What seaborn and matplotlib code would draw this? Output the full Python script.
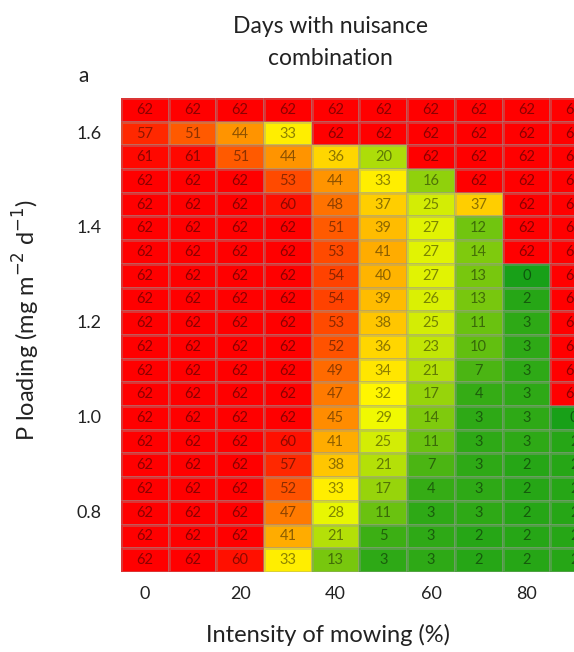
import numpy as np
import pandas as pd
import matplotlib.pyplot as plt
from matplotlib.colors import LinearSegmentedColormap
import seaborn as sns

# mowing intensity (%) columns and P loading rows (top to bottom)
mowing = [0, 10, 20, 30, 40, 50, 60, 70, 80, 90]
p_loading = [1.65, 1.60, 1.55, 1.50, 1.45, 1.40, 1.35, 1.30, 1.25, 1.20,
             1.15, 1.10, 1.05, 1.00, 0.95, 0.90, 0.85, 0.80, 0.75, 0.70]
p_ticks = [1.6, 1.4, 1.2, 1.0, 0.8]
x_ticks = [0, 20, 40, 60, 80]

days = [
    [62, 62, 62, 62, 62, 62, 62, 62, 62, 62],
    [57, 51, 44, 33, 62, 62, 62, 62, 62, 62],
    [61, 61, 51, 44, 36, 20, 62, 62, 62, 62],
    [62, 62, 62, 53, 44, 33, 16, 62, 62, 62],
    [62, 62, 62, 60, 48, 37, 25, 37, 62, 62],
    [62, 62, 62, 62, 51, 39, 27, 12, 62, 62],
    [62, 62, 62, 62, 53, 41, 27, 14, 62, 62],
    [62, 62, 62, 62, 54, 40, 27, 13, 0, 62],
    [62, 62, 62, 62, 54, 39, 26, 13, 2, 62],
    [62, 62, 62, 62, 53, 38, 25, 11, 3, 62],
    [62, 62, 62, 62, 52, 36, 23, 10, 3, 62],
    [62, 62, 62, 62, 49, 34, 21, 7, 3, 62],
    [62, 62, 62, 62, 47, 32, 17, 4, 3, 62],
    [62, 62, 62, 62, 45, 29, 14, 3, 3, 0],
    [62, 62, 62, 60, 41, 25, 11, 3, 3, 2],
    [62, 62, 62, 57, 38, 21, 7, 3, 2, 2],
    [62, 62, 62, 52, 33, 17, 4, 3, 2, 2],
    [62, 62, 62, 47, 28, 11, 3, 3, 2, 2],
    [62, 62, 62, 41, 21, 5, 3, 2, 2, 2],
    [62, 62, 60, 33, 13, 3, 3, 2, 2, 2],
]

sns.set_style("white")
plt.rcParams["font.family"] = ["Lato", "DejaVu Sans"]
TXT = "#222222"

df = pd.DataFrame(days, index=p_loading, columns=mowing)
cmap = LinearSegmentedColormap.from_list(
    "gyr", [(0.0, "#18a018"), (0.5, "#ffff00"), (1.0, "#ff0000")])

fig = plt.figure(figsize=(5.74, 6.52), dpi=100)
# axes runs past the right edge, as in the cropped original
ax = fig.add_axes([0.2108, 0.1227, 0.831, 0.727])
sns.heatmap(df, ax=ax, cmap=cmap, vmin=0, vmax=62, cbar=False,
            annot=True, fmt="d",
            annot_kws={"fontsize": 10.5, "color": (0, 0, 0, 0.45)},
            linewidths=0.8, linecolor=(0.6, 0.6, 0.6, 0.35))

ax.set_xticks([mowing.index(v) + 0.5 for v in x_ticks])
ax.set_xticklabels([str(v) for v in x_ticks], rotation=0)
ax.set_yticks([int(np.argmin(np.abs(np.array(p_loading) - v))) + 0.5 for v in p_ticks])
ax.set_yticklabels([f"{v:.1f}" for v in p_ticks], rotation=0)
ax.tick_params(axis="both", length=0, labelsize=13, colors=TXT)
ax.tick_params(axis="x", pad=10)
ax.tick_params(axis="y", pad=14)

ax.set_xlabel("Intensity of mowing (%)", fontsize=17, color=TXT)
ax.xaxis.set_label_coords(0.434, -0.11)
ax.set_ylabel("P loading (mg m$^{-2}$ d$^{-1}$)", fontsize=17, color=TXT)
ax.yaxis.set_label_coords(-0.166, 0.532)
ax.set_title("Days with nuisance\ncombination", fontsize=16.5, color=TXT,
             x=0.44, pad=24, linespacing=1.6)
fig.text(0.145, 0.884, "a", fontsize=15, color=TXT, ha="center", va="center")

fig.savefig("out.png", dpi=100)
plt.close()
